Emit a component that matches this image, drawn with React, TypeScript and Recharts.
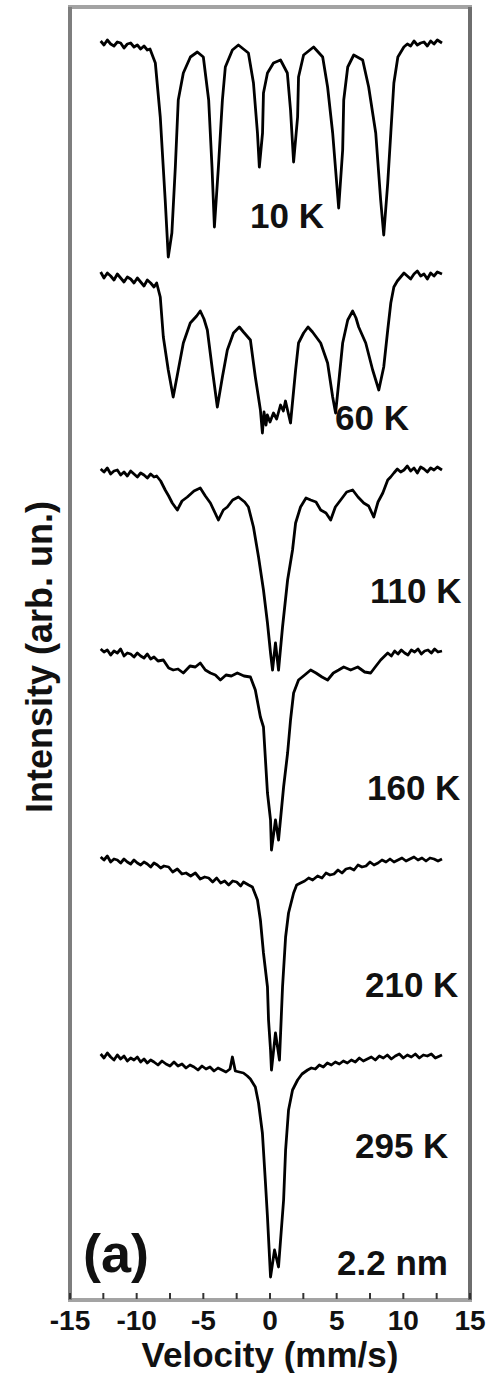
import React from "react";
import { LineChart, Line, XAxis, YAxis, ReferenceArea, ReferenceLine } from "recharts";

const W = 489;
const H = 1373;
const FONT = "'Liberation Sans', Arial, sans-serif";

// temperature labels and the vertical offset (arb. un.) of each spectrum
const TEMPS = ["10 K", "60 K", "110 K", "160 K", "210 K", "295 K"];
const OFFSETS = [125.4, 102.3, 82.8, 64.7, 44.0, 24.3];
const X_TICKS = [-15, -12.5, -10, -7.5, -5, -2.5, 0, 2.5, 5, 7.5, 10, 12.5, 15];

// [velocity mm/s, relative intensity]
const S10K: [number, number][] = [
  [-12.7, 0.5], [-12.45, 0.1], [-12.2, 0.6], [-11.95, 0.2], [-11.7, 0.0], [-11.45, 0.4],
  [-11.2, 0.3], [-10.95, -0.2], [-10.7, 0.2], [-10.45, 0.3], [-10.2, -0.1], [-9.95, 0.1],
  [-9.7, -0.3], [-9.45, 0.0], [-9.2, -0.4], [-9.0, -0.3], [-8.6, -1.7], [-8.23, -7.1],
  [-7.86, -15.4], [-7.63, -21.1], [-7.36, -18.7], [-7.1, -12.1], [-6.88, -5.4], [-6.5, -2.7],
  [-5.97, -1.1], [-5.45, -0.6], [-5.0, -1.1], [-4.6, -5.4], [-4.35, -12.1], [-4.17, -18.1],
  [-3.87, -12.1], [-3.57, -5.4], [-3.35, -2.1], [-2.82, -0.4], [-2.37, 0.1], [-1.62, -0.7],
  [-1.24, -3.7], [-0.94, -8.7], [-0.8, -12.1], [-0.56, -8.7], [-0.49, -4.7], [-0.19, -2.7],
  [0.26, -1.7], [0.79, -1.4], [1.3, -2.7], [1.54, -6.4], [1.77, -11.6], [2.07, -7.1],
  [2.14, -3.1], [2.52, -0.9], [3.27, -0.1], [3.95, -1.1], [4.32, -4.1], [4.7, -8.7],
  [5.15, -16.2], [5.45, -10.4], [5.53, -5.4], [5.83, -2.1], [6.28, -0.9], [6.95, -1.4],
  [7.4, -4.1], [7.93, -8.7], [8.3, -15.4], [8.53, -18.9], [8.83, -13.7], [9.06, -8.7],
  [9.29, -3.7], [9.59, -1.1], [10.04, -0.1], [10.3, 0.2], [10.55, 0.0], [10.8, 0.5],
  [11.05, 0.1], [11.3, 0.3], [11.55, 0.4], [11.8, 0.0], [12.05, 0.5], [12.3, 0.2],
  [12.55, 0.6], [12.9, 0.3],
];

const S60K: [number, number][] = [
  [-12.7, 0.5], [-12.45, -0.1], [-12.2, 0.4], [-11.95, 0.1], [-11.7, -0.3], [-11.45, 0.3],
  [-11.2, -0.1], [-10.95, -0.5], [-10.7, 0.0], [-10.45, -0.2], [-10.2, -0.6], [-9.95, -0.1],
  [-9.7, -0.5], [-9.45, -0.9], [-9.2, -0.3], [-8.95, -0.6], [-8.7, -1.0], [-8.5, -0.6],
  [-8.23, -2.0], [-8.0, -6.0], [-7.63, -9.3], [-7.26, -12.0], [-6.88, -9.3], [-6.5, -6.6],
  [-5.98, -4.6], [-5.5, -3.9], [-5.23, -3.4], [-4.95, -4.2], [-4.7, -5.3], [-4.32, -9.3],
  [-3.95, -13.0], [-3.57, -10.0], [-3.2, -7.3], [-2.74, -5.6], [-2.3, -5.0], [-1.99, -5.5],
  [-1.47, -6.3], [-1.1, -10.0], [-0.72, -13.3], [-0.57, -15.6], [-0.45, -13.5], [-0.3, -14.8],
  [-0.2, -13.8], [0.0, -14.5], [0.26, -13.6], [0.5, -14.2], [0.79, -12.8], [1.0, -13.4],
  [1.16, -12.4], [1.35, -13.5], [1.54, -14.6], [1.92, -9.3], [2.14, -6.6], [2.52, -5.6],
  [2.85, -5.0], [3.19, -5.5], [3.8, -6.6], [4.32, -8.6], [4.7, -12.0], [4.92, -13.6],
  [5.15, -10.6], [5.45, -6.6], [5.83, -4.3], [6.2, -3.4], [6.45, -4.1], [6.65, -5.0],
  [7.18, -6.6], [7.7, -9.3], [8.16, -11.3], [8.53, -9.0], [8.83, -5.3], [9.06, -2.6],
  [9.29, -1.0], [9.55, -0.4], [9.8, 0.0], [10.05, 0.4], [10.3, 0.1], [10.55, -0.2],
  [10.8, 0.3], [11.05, 0.6], [11.3, 0.1], [11.55, 0.3], [11.8, -0.2], [12.05, 0.4],
  [12.3, 0.1], [12.55, 0.5], [12.9, 0.3],
];

const S110K: [number, number][] = [
  [-12.7, 0.3], [-12.45, 0.0], [-12.2, 0.4], [-11.95, -0.2], [-11.7, 0.1], [-11.45, 0.2],
  [-11.2, -0.3], [-10.95, 0.0], [-10.7, -0.4], [-10.45, 0.1], [-10.2, -0.2], [-9.95, -0.5],
  [-9.7, -0.1], [-9.45, -0.3], [-9.2, -0.6], [-8.95, -0.2], [-8.7, -0.5], [-8.5, -0.4],
  [-8.2, -0.9], [-7.86, -1.8], [-7.6, -2.4], [-7.33, -3.1], [-6.95, -3.8], [-6.6, -2.9],
  [-6.2, -2.5], [-5.7, -1.9], [-5.23, -1.6], [-4.85, -2.4], [-4.47, -3.1], [-3.87, -4.8],
  [-3.5, -3.8], [-3.2, -3.5], [-2.8, -2.8], [-2.37, -2.5], [-1.9, -3.0], [-1.62, -3.5],
  [-1.24, -5.5], [-0.86, -8.5], [-0.49, -11.8], [-0.19, -15.1], [0.04, -18.1], [0.19, -19.8],
  [0.41, -17.1], [0.64, -19.8], [0.94, -15.5], [1.32, -10.8], [1.69, -7.8], [1.92, -5.1],
  [2.29, -3.5], [2.7, -2.6], [3.05, -2.8], [3.45, -3.0], [3.8, -3.8], [4.2, -4.1],
  [4.55, -4.8], [4.9, -3.5], [5.3, -2.8], [5.75, -2.0], [6.2, -1.8], [6.6, -2.5],
  [7.03, -3.1], [7.4, -3.4], [7.78, -4.5], [8.1, -3.0], [8.46, -2.1], [8.83, -0.8],
  [9.05, -0.5], [9.29, -0.1], [9.55, 0.3], [9.8, 0.0], [10.05, 0.2], [10.3, 0.6],
  [10.55, 0.1], [10.8, 0.4], [11.05, -0.1], [11.3, 0.5], [11.55, 0.3], [11.8, 0.0],
  [12.05, 0.4], [12.3, 0.2], [12.55, 0.5], [12.9, 0.2],
];

const S160K: [number, number][] = [
  [-12.7, 0.4], [-12.45, 0.1], [-12.2, 0.3], [-11.95, -0.2], [-11.7, 0.2], [-11.45, 0.0],
  [-11.2, 0.4], [-10.95, -0.3], [-10.7, 0.0], [-10.45, -0.1], [-10.2, -0.4], [-9.95, 0.0],
  [-9.7, -0.3], [-9.45, -0.5], [-9.2, -0.1], [-8.95, -0.6], [-8.7, -0.4], [-8.4, -0.8],
  [-8.0, -0.7], [-7.6, -1.5], [-7.26, -1.7], [-6.9, -1.6], [-6.5, -2.0], [-6.0, -1.3],
  [-5.6, -1.4], [-5.23, -1.0], [-4.85, -1.7], [-4.47, -2.0], [-4.1, -2.2], [-3.72, -2.7],
  [-3.3, -2.2], [-2.9, -2.3], [-2.45, -2.0], [-1.95, -2.3], [-1.47, -2.4], [-1.1, -3.7],
  [-0.72, -6.4], [-0.49, -7.4], [-0.34, -10.7], [-0.19, -14.0], [0.04, -16.7], [0.11, -19.7],
  [0.41, -16.7], [0.64, -18.7], [1.02, -13.4], [1.32, -10.0], [1.54, -6.7], [1.77, -4.0],
  [2.14, -2.7], [2.6, -2.2], [3.05, -1.7], [3.45, -2.0], [3.9, -2.4], [4.32, -2.7],
  [4.75, -2.0], [5.15, -1.7], [5.53, -1.4], [6.05, -1.7], [6.58, -1.4], [7.1, -1.9],
  [7.55, -2.0], [7.95, -1.3], [8.3, -0.7], [8.83, 0.0], [9.1, -0.3], [9.35, 0.2],
  [9.6, -0.1], [9.85, 0.3], [10.1, 0.0], [10.35, -0.2], [10.6, 0.3], [10.85, 0.1],
  [11.1, 0.4], [11.35, -0.1], [11.6, 0.2], [11.85, 0.3], [12.1, 0.0], [12.35, 0.4],
  [12.6, 0.1], [12.9, 0.2],
];

const S210K: [number, number][] = [
  [-12.7, 0.3], [-12.45, 0.0], [-12.2, 0.4], [-11.95, -0.2], [-11.7, 0.1], [-11.45, 0.0],
  [-11.2, -0.3], [-10.95, 0.1], [-10.7, -0.2], [-10.45, -0.4], [-10.2, 0.0], [-9.95, -0.3],
  [-9.7, -0.5], [-9.45, -0.2], [-9.2, -0.4], [-8.95, -0.7], [-8.7, -0.3], [-8.45, -0.5],
  [-8.2, -0.8], [-7.95, -0.6], [-7.6, -0.7], [-7.3, -1.2], [-6.95, -0.9], [-6.6, -1.4],
  [-6.3, -1.3], [-5.95, -1.6], [-5.6, -1.3], [-5.23, -1.9], [-4.9, -1.7], [-4.6, -1.8],
  [-4.3, -2.2], [-4.0, -1.8], [-3.7, -2.3], [-3.4, -2.1], [-3.1, -2.5], [-2.8, -2.1],
  [-2.5, -2.2], [-2.2, -2.6], [-1.99, -2.2], [-1.6, -2.5], [-1.32, -2.7], [-0.94, -4.0],
  [-0.72, -6.0], [-0.49, -9.3], [-0.19, -12.7], [-0.11, -16.0], [0.04, -19.0], [0.11, -21.0],
  [0.41, -17.3], [0.71, -20.0], [0.94, -12.7], [1.17, -7.7], [1.39, -5.3], [1.77, -3.3],
  [2.0, -2.5], [2.29, -2.3], [2.6, -2.1], [2.9, -1.8], [3.2, -2.0], [3.57, -1.6],
  [3.9, -1.8], [4.2, -1.3], [4.5, -1.5], [4.8, -1.4], [5.1, -1.0], [5.4, -1.3],
  [5.7, -0.9], [6.0, -0.8], [6.3, -1.0], [6.6, -0.5], [6.9, -0.7], [7.2, -0.6],
  [7.5, -0.2], [7.8, -0.5], [8.1, -0.3], [8.4, 0.0], [8.7, -0.2], [9.0, 0.1],
  [9.3, -0.2], [9.6, 0.0], [9.9, 0.2], [10.2, -0.1], [10.5, 0.1], [10.8, 0.3],
  [11.1, 0.0], [11.4, 0.2], [11.7, -0.1], [12.0, 0.2], [12.3, 0.1], [12.6, -0.1],
  [12.9, 0.1],
];

const S295K: [number, number][] = [
  [-12.7, 0.3], [-12.45, -0.1], [-12.2, 0.4], [-11.95, 0.0], [-11.7, -0.3], [-11.45, 0.2],
  [-11.2, -0.2], [-10.95, 0.1], [-10.7, -0.4], [-10.45, -0.1], [-10.2, -0.3], [-9.95, 0.0],
  [-9.7, -0.5], [-9.45, -0.2], [-9.2, -0.6], [-8.95, -0.3], [-8.7, -0.5], [-8.4, -0.8],
  [-8.1, -0.4], [-7.8, -0.7], [-7.5, -0.9], [-7.2, -0.5], [-6.9, -0.9], [-6.6, -0.7],
  [-6.3, -1.1], [-6.0, -0.8], [-5.7, -1.0], [-5.4, -1.3], [-5.1, -0.9], [-4.8, -1.2],
  [-4.5, -1.0], [-4.2, -1.4], [-3.9, -1.1], [-3.6, -1.3], [-3.3, -1.5], [-3.0, -1.2],
  [-2.82, 0.0], [-2.6, -1.4], [-2.3, -1.5], [-1.99, -1.6], [-1.7, -1.9], [-1.47, -2.2],
  [-1.1, -3.0], [-0.86, -4.6], [-0.57, -7.6], [-0.34, -12.6], [-0.19, -16.0], [0.04, -22.0],
  [0.34, -19.3], [0.64, -21.0], [1.02, -14.3], [1.17, -9.3], [1.39, -5.3], [1.69, -3.3],
  [2.07, -2.3], [2.4, -1.7], [2.82, -1.3], [3.1, -1.1], [3.4, -1.2], [3.7, -0.8],
  [4.0, -1.0], [4.3, -0.6], [4.6, -0.8], [4.9, -0.5], [5.2, -0.7], [5.5, -0.4],
  [5.8, -0.6], [6.1, -0.3], [6.4, -0.5], [6.7, -0.1], [7.0, -0.4], [7.3, -0.2],
  [7.6, 0.0], [7.9, -0.3], [8.2, 0.1], [8.5, -0.1], [8.8, 0.2], [9.1, -0.2],
  [9.4, 0.1], [9.7, 0.3], [10.0, -0.1], [10.3, 0.2], [10.6, 0.0], [10.9, 0.3],
  [11.2, -0.1], [11.5, 0.2], [11.8, 0.1], [12.1, 0.3], [12.4, -0.1], [12.9, 0.2],
];

const SPECTRA = [S10K, S60K, S110K, S160K, S210K, S295K];

// where each temperature label sits (px, baseline)
const TEMP_POS: [number, number][] = [
  [250, 228], [335, 430], [370, 603], [367, 800], [365, 997], [355, 1158],
];

const toRows = (s: [number, number][], off: number) =>
  s.map(([v, r]) => ({ v, y: +(off + r).toFixed(2) }));

const VelocityTick = (props: any) => {
  const { x, y, payload } = props;
  const v = payload.value;
  return (
    <g>
      <line x1={x} x2={x} y1={y - 1} y2={y - 7} stroke="#333" strokeWidth={2} />
      {v % 5 === 0 && (
        <text
          x={x}
          y={y + 30}
          textAnchor="middle"
          fontFamily={FONT}
          fontWeight="bold"
          fontSize={28}
          fill="#111"
        >
          {String(v)}
        </text>
      )}
    </g>
  );
};

const txt = { fontFamily: FONT, fontWeight: "bold" as const, fill: "#111" };

export default function App() {
  return (
    <div style={{ position: "absolute", left: 0, top: 0, width: W, height: H, background: "#fff" }}>
      <LineChart
        width={W}
        height={H}
        margin={{ top: 7, right: 19, left: 70, bottom: 0 }}
      >
        <XAxis
          dataKey="v"
          type="number"
          domain={[-15, 15]}
          ticks={X_TICKS}
          interval={0}
          allowDataOverflow
          axisLine={false}
          tickLine={false}
          tickSize={0}
          tickMargin={0}
          height={73}
          tick={<VelocityTick />}
        />
        <YAxis type="number" domain={[0, 129.3]} hide allowDataOverflow />
        <ReferenceArea
          x1={-15}
          x2={15}
          y1={0}
          y2={129.3}
          fill="none"
          stroke="#a3a3a3"
          strokeWidth={4}
          ifOverflow="visible"
        />
        <ReferenceLine x={-15} stroke="#7e7e7e" strokeWidth={4} ifOverflow="visible" />
        <ReferenceLine x={15} stroke="#6e6e6e" strokeWidth={4} ifOverflow="visible" />
        {SPECTRA.map((s, i) => (
          <Line
            key={TEMPS[i]}
            data={toRows(s, OFFSETS[i])}
            dataKey="y"
            type="linear"
            stroke="#000"
            strokeWidth={2.8}
            strokeLinejoin="round"
            dot={false}
            isAnimationActive={false}
          />
        ))}
      </LineChart>
      <svg
        width={W}
        height={H}
        style={{ position: "absolute", left: 0, top: 0, pointerEvents: "none" }}
      >
        {TEMPS.map((t, i) => (
          <text key={t} x={TEMP_POS[i][0]} y={TEMP_POS[i][1]} fontSize={35} {...txt}>
            {t}
          </text>
        ))}
        <text x={83} y={1272} fontSize={54} {...txt}>(a)</text>
        <text x={337} y={1275} fontSize={35} {...txt}>2.2 nm</text>
        <text x={270} y={1367} fontSize={35} textAnchor="middle" {...txt}>
          Velocity (mm/s)
        </text>
        <text
          x={0}
          y={0}
          fontSize={36}
          textAnchor="middle"
          transform="translate(52 657) rotate(-90)"
          {...txt}
        >
          Intensity (arb. un.)
        </text>
      </svg>
    </div>
  );
}
